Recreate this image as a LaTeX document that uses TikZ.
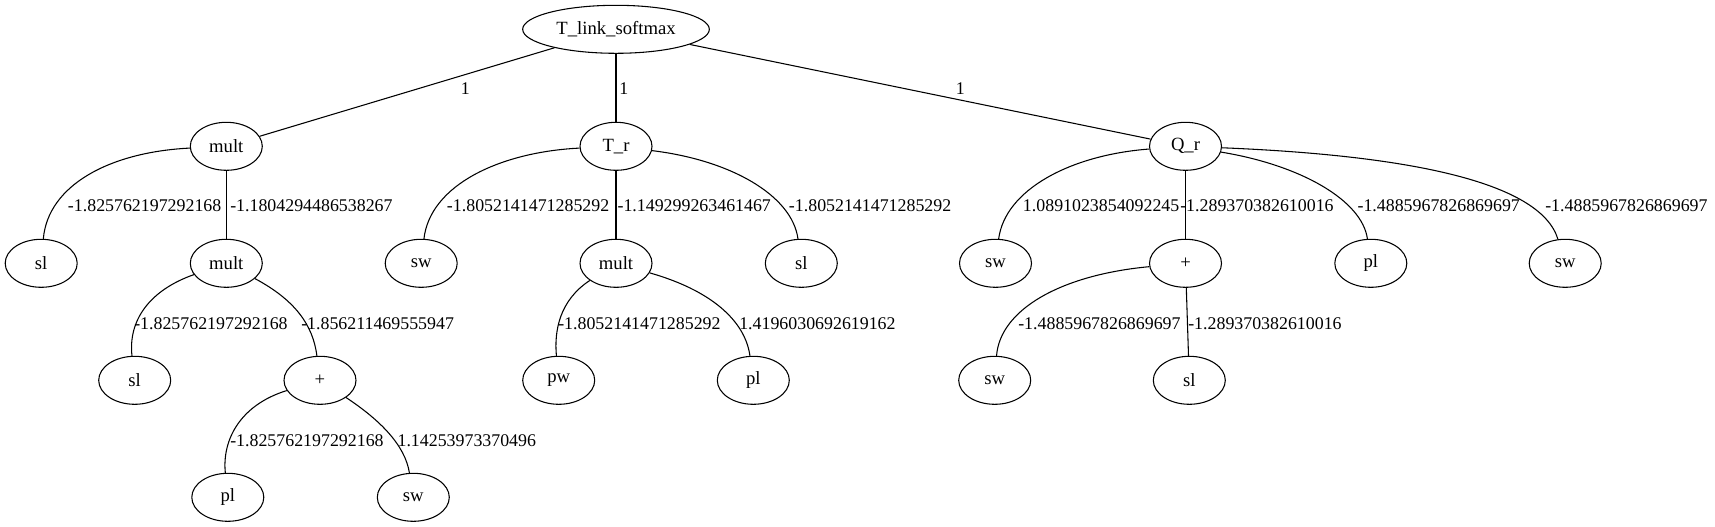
\documentclass[tikz,border=0pt]{standalone}
\usepackage{fontspec}
\setmainfont{Liberation Serif}
\usetikzlibrary{shapes.geometric}
\tikzset{
  nd/.style={draw, ellipse, line width=0.8pt, minimum width=54pt, minimum height=36pt, inner sep=0pt, font=\fontsize{14}{16}\selectfont},
  lb/.style={anchor=base west, inner sep=0pt, font=\fontsize{13.4}{16}\selectfont},
  ed/.style={line width=0.8pt}
}
\begin{document}
\begin{tikzpicture}[x=0.75pt, y=-0.75pt]
\useasboundingbox (0,0) rectangle (1715,527);
% nodes
\node[nd, minimum width=140pt] (root) at (616,29.3) {T\_link\_softmax};
\node[nd] (m1) at (226.3,146.3) {mult};
\node[nd] (tr) at (616,146.3) {T\_r};
\node[nd] (qr) at (1185.5,146.3) {Q\_r};
\node[nd] (sl1) at (41.2,263.3) {sl};
\node[nd] (m2) at (226.3,263.3) {mult};
\node[nd] (sw1) at (421.2,263.3) {sw};
\node[nd] (m3) at (616,263.3) {mult};
\node[nd] (sl2) at (801.3,263.3) {sl};
\node[nd] (sw2) at (995.5,263.3) {sw};
\node[nd] (p1) at (1185.5,263.3) {+};
\node[nd] (pl1) at (1370.8,263.3) {pl};
\node[nd] (sw3) at (1565.2,263.3) {sw};
\node[nd] (sl3) at (134.7,380.3) {sl};
\node[nd] (p2) at (320,380.3) {+};
\node[nd] (pw) at (558.7,380.3) {pw};
\node[nd] (pl2) at (753.3,380.3) {pl};
\node[nd] (sw4) at (994.7,380.3) {sw};
\node[nd] (sl4) at (1189.3,380.3) {sl};
\node[nd] (pl3) at (227.8,497.3) {pl};
\node[nd] (sw5) at (413.3,497.3) {sw};
% edges
\draw[ed] (root) -- (m1);
\draw[ed] (root) -- (tr);
\draw[ed] (root) -- (qr);
\draw[ed] (m1) .. controls (110,152) and (48,185) .. (sl1);
\draw[ed] (m1) -- (m2);
\draw[ed] (tr) .. controls (500,152) and (430,185) .. (sw1);
\draw[ed] (tr) -- (m3);
\draw[ed] (tr) .. controls (730,160) and (792,195) .. (sl2);
\draw[ed] (qr) .. controls (1070,155) and (1005,190) .. (sw2);
\draw[ed] (qr) -- (p1);
\draw[ed] (qr) .. controls (1300,165) and (1362,200) .. (pl1);
\draw[ed] (qr) .. controls (1400,155) and (1540,180) .. (sw3);
\draw[ed] (m2) .. controls (150,290) and (128,320) .. (sl3);
\draw[ed] (m2) .. controls (295,300) and (313,325) .. (p2);
\draw[ed] (m3) .. controls (560,300) and (554,330) .. (pw);
\draw[ed] (m3) .. controls (710,290) and (745,320) .. (pl2);
\draw[ed] (p1) .. controls (1060,275) and (1000,310) .. (sw4);
\draw[ed] (p1) -- (sl4);
\draw[ed] (p2) .. controls (240,405) and (222,440) .. (pl3);
\draw[ed] (p2) .. controls (380,420) and (405,445) .. (sw5);
% labels
\node[lb] (a1) at (460.5,95) {1};
\node[lb] (a2) at (619,95) {1};
\node[lb] (a3) at (955.5,95) {1};
\node[lb] (b1) at (67.7,212) {-1.825762197292168};
\node[lb] (b2) at (230,212) {-1.1804294486538267};
\node[lb] (b3) at (446.7,212) {-1.8052141471285292};
\node[lb] (b4) at (617.3,212) {-1.149299263461467};
\node[lb] (b5) at (788.7,212) {-1.8052141471285292};
\node[lb] (b6) at (1022.7,212) {1.0891023854092245};
\node[lb] (b7) at (1180,212) {-1.289370382610016};
\node[lb] (b8) at (1357.3,212) {-1.4885967826869697};
\node[lb] (b9) at (1545,212) {-1.4885967826869697};
\node[lb] (c1) at (134,329) {-1.825762197292168};
\node[lb] (c2) at (301,329) {-1.856211469555947};
\node[lb] (c3) at (558,329) {-1.8052141471285292};
\node[lb] (c4) at (739,329) {1.4196030692619162};
\node[lb] (c5) at (1018,329) {-1.4885967826869697};
\node[lb] (c6) at (1188,329) {-1.289370382610016};
\node[lb] (d1) at (230,446) {-1.825762197292168};
\node[lb] (d2) at (397.3,446) {1.14253973370496};
\end{tikzpicture}
\end{document}
